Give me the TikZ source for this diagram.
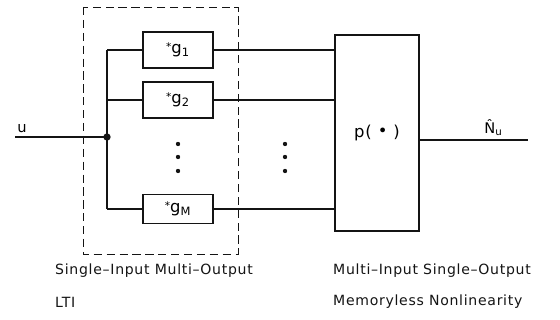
\documentclass[tikz,border=0pt]{standalone}
\usepackage{fontspec}
\setmainfont{DejaVu Sans}[LetterSpace=5]
\usetikzlibrary{calc,positioning}
\definecolor{blockink}{HTML}{141414}

\tikzset{
  gbox/.style={draw=blockink, line width=1pt, minimum width=2.1cm,
    minimum height=1.08cm, inner sep=0pt, font=\fontsize{14}{16}\selectfont},
  wire/.style={draw=blockink, line width=0.9pt},
  caption/.style={anchor=west, inner sep=0pt, text=blockink,
    font=\fontsize{12}{14}\selectfont}
}

\begin{document}
\begin{tikzpicture}[x=0.03cm, y=-0.03cm, font=\fontsize{12.5}{14}\selectfont]
    \useasboundingbox (0,0) rectangle (560,320);
    \draw[blockink, line width=0.7pt, dash pattern=on 7pt off 4pt]
      (83,7) rectangle (238,254);

    \node[gbox] (gone) at (178,50) {\raisebox{3pt}{\small *}g\textsubscript{1}};
    \node[gbox] (gtwo) at (178,100) {\raisebox{3pt}{\small *}g\textsubscript{2}};
    \node[gbox, minimum height=0.88cm] (gM) at (178,209) {\raisebox{3pt}{\small *}g\textsubscript{M}};
    \node[gbox, minimum width=2.52cm, minimum height=5.88cm] (pbox) at (377,133)
      {p( \raisebox{0.5pt}{•} )};

    \coordinate (uin) at (15,137);
    \coordinate (junc) at (107,137);
    \coordinate (nout) at (528,140);
    \node[inner sep=1pt, anchor=south west] (ulab) at (16,134) {u};
    \node[inner sep=1pt, anchor=south west] (nlab) at (483,137) {N̂\textsubscript{u}};

    \draw[wire] (uin) -- (junc);
    \fill[blockink] (junc) circle (0.11cm);
    \draw[wire] (junc |- gone.west) -- (junc |- gM.west);
    \foreach \g in {gone, gtwo, gM} {
      \draw[wire] (junc |- \g.west) -- (\g.west);
      \draw[wire] (\g.east) -- (\g.east -| pbox.west);
    }
    \draw[wire] (nout -| pbox.east) -- (nout);

    \foreach \y in {144,157,171} {
      \fill[blockink] (178,\y) circle (0.065cm);
      \fill[blockink] (285,\y) circle (0.065cm);
    }

    \node[caption] (simo) at (55,271) {Single–Input Multi–Output};
    \node[caption] (lti) at (55,302) {LTI};
    \node[caption] (miso) at (333,271) {Multi–Input Single–Output};
    \node[caption] (nonlin) at (333,302) {Memoryless Nonlinearity};
  \end{tikzpicture}
\end{document}
